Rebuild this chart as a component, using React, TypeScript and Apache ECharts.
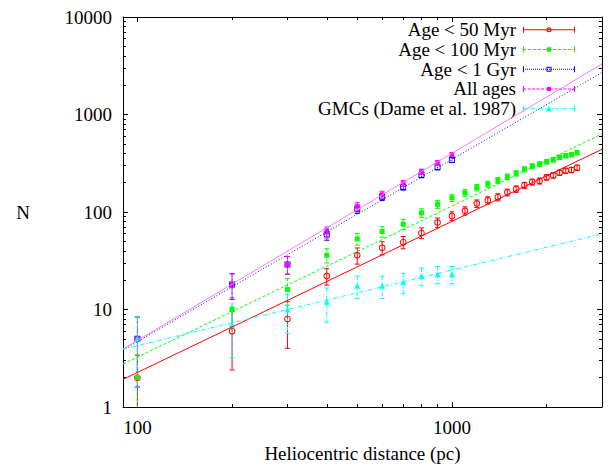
import React, { useEffect, useRef } from "react";
import * as echarts from "echarts";

// ---------- data ----------
const distShort = [100, 200, 300, 400, 500, 600, 700, 800, 900, 1000];
const distLong = [100, 200, 300, 400, 500, 600, 700, 800, 900, 1000, 1100, 1200, 1300, 1400, 1500, 1600, 1700, 1800, 1900, 2000, 2100, 2200, 2300, 2400, 2500];

const age50 = [2, 6, 8, 22, 36, 43, 49, 61, 78, 91, 103, 122, 132, 142, 159, 172, 188, 203, 208, 227, 238, 253, 265, 270, 285];
const age50Err = [1.4, 3.6, 4, 4.2, 6.8, 6.6, 7, 7.7, 8.8, 9.5, 10, 11, 11.4, 12, 12.6, 13, 13.6, 14.2, 14.4, 15, 15.4, 15.9, 16.1, 16.4, 16.9];

const age100 = [2, 10, 16, 36, 53, 63, 75, 98, 120, 140, 157, 178, 193, 211, 230, 249, 274, 295, 309, 328, 344, 364, 378, 387, 406];
const age100Err = [1.4, 3.2, 4.9, 6, 7.3, 7.9, 8.7, 9.9, 11, 11.9, 12.5, 13.3, 13.9, 14.5, 15.2, 15.8, 16.6, 17.2, 17.6, 18.1, 18.5, 19.1, 19.4, 19.7, 20.1];

const age1G = [5, 18, 29, 59, 107, 143, 181, 240, 288, 341];
const age1GErr = [3.4, 5.3, 6, 7.7, 10.3, 12, 13.4, 15.5, 17, 18.5];

const allAges = [5, 18, 29, 62, 114, 151, 197, 259, 320, 387];
const allAgesErr = [3.4, 5.3, 6, 8, 10.7, 12.3, 14, 16.1, 17.9, 19.7];

const gmc = [5, 7, 10, 12, 17.5, 17.5, 19, 22, 23, 23];
const gmcErr = [3.4, 3.8, 4.3, 4.6, 4.5, 4.5, 4.5, 4.5, 4.6, 4.6];

// fitted power laws: value at the two ends of the x range
const fitX = [90, 3000];
const fit50 = [1.92, 440];
const fit100 = [2.76, 631];
const fit1G = [3.84, 2700];
const fitAll = [3.93, 3296];
const fitGmc = [3.93, 59.5];

const xMajor = [100, 1000];
const xMinor = [200, 300, 400, 500, 600, 700, 800, 900, 2000, 3000];
const yMajor = [1, 10, 100, 1000, 10000];
const yMinor = [2, 3, 4, 5, 6, 7, 8, 9, 20, 30, 40, 50, 60, 70, 80, 90, 200, 300, 400, 500, 600, 700, 800, 900, 2000, 3000, 4000, 5000, 6000, 7000, 8000, 9000];

const names = ["Age < 50 Myr", "Age < 100 Myr", "Age < 1 Gyr", "All ages", "GMCs (Dame et al. 1987)"];

// ---------- styling ----------
const SERIF = '"Liberation Serif", "DejaVu Serif", serif';
const RED = "#ff0000";
const GREEN = "#00ff00";
const BLUE = "#0000ff";
const MAG = "#ff00ff";
const CYAN = "#00ffff";

const RING = "path://M0 -5A5 5 0 1 1 0 5A5 5 0 1 1 0 -5Z M0 -3.6A3.6 3.6 0 1 0 0 3.6A3.6 3.6 0 1 0 0 -3.6Z";
const OPENSQ = "path://M-5 -5H5V5H-5Z M-3.5 -3.5V3.5H3.5V-3.5Z";

function iconPath(dash: number[] | null, marker: string): string {
  const W = 52;
  let d = "M0 0H1V6H0Z M51 0H52V6H51Z ";
  if (!dash) {
    d += "M0 2.5H52V3.5H0Z ";
  } else {
    let x = 0;
    let k = 0;
    while (x < W) {
      const len = dash[k % dash.length];
      if (k % 2 === 0) {
        const x2 = Math.min(W, x + len);
        d += `M${x.toFixed(2)} 2.5H${x2.toFixed(2)}V3.5H${x.toFixed(2)}Z `;
      }
      x += len;
      k++;
    }
  }
  if (marker === "ring") {
    d += "M23.5 3A2.5 2.5 0 1 1 28.5 3A2.5 2.5 0 1 1 23.5 3Z M24.6 3A1.4 1.4 0 1 0 27.4 3A1.4 1.4 0 1 0 24.6 3Z";
  } else if (marker === "square") {
    d += "M23.7 0.7H28.3V5.3H23.7Z";
  } else if (marker === "open") {
    d += "M23.5 0.5H28.5V5.5H23.5Z M24.5 1.5V4.5H27.5V1.5Z";
  } else if (marker === "small") {
    d += "M24 1H28V5H24Z";
  } else {
    d += "M26 0.3L28.8 5.5H23.2Z";
  }
  return "path://" + d;
}

function errorSeries(xs: number[], ys: number[], errs: number[], color: string, dash: number[] | null) {
  return {
    type: "custom",
    clip: true,
    silent: true,
    z: 2,
    data: xs.map((x, i) => [x, ys[i], ys[i] - errs[i], ys[i] + errs[i]]),
    encode: { x: 0, y: [1, 2, 3] },
    renderItem: (_p: any, api: any) => {
      const x = api.value(0);
      const top = api.coord([x, api.value(3)]);
      const bot = api.coord([x, api.value(2)]);
      const cap = 2.5;
      const s: any = { stroke: color, lineWidth: 1, fill: null };
      if (dash) s.lineDash = dash;
      const c: any = { stroke: color, lineWidth: 1, fill: null };
      return {
        type: "group",
        children: [
          { type: "line", shape: { x1: top[0], y1: top[1], x2: bot[0], y2: bot[1] }, style: s },
          { type: "line", shape: { x1: top[0] - cap, y1: top[1], x2: top[0] + cap, y2: top[1] }, style: c },
          { type: "line", shape: { x1: bot[0] - cap, y1: bot[1], x2: bot[0] + cap, y2: bot[1] }, style: c },
        ],
      };
    },
  };
}

function pointSeries(name: string, xs: number[], ys: number[], color: string, symbol: string, size: number) {
  return {
    type: "scatter",
    name,
    z: 3,
    symbol,
    symbolSize: size,
    itemStyle: { color, opacity: 1 },
    data: xs.map((x, i) => [x, ys[i]]),
  };
}

function fitSeries(fit: number[], color: string, type: any, width = 1) {
  return {
    type: "line",
    silent: true,
    z: 4,
    symbol: "none",
    showSymbol: false,
    lineStyle: { color, width, type },
    data: [
      [fitX[0], fit[0]],
      [fitX[1], fit[1]],
    ],
  };
}

const labelStyle = { fontFamily: SERIF, fontSize: 19, color: "#000" };
const plainFormat = (v: number) => String(Math.round(v));

function xAxisDef(position: string, major: boolean, labels: boolean, extra: any = {}) {
  return {
    type: "log",
    logBase: 10,
    min: 90,
    max: 3000,
    position,
    axisLine: { show: major, onZero: false, lineStyle: { color: "#000", width: 1 } },
    axisTick: { show: true, inside: true, length: major ? 5 : 3, customValues: major ? xMajor : xMinor, lineStyle: { color: "#000", width: 1 } },
    axisLabel: labels
      ? { show: true, customValues: xMajor, margin: 11, formatter: plainFormat, ...labelStyle }
      : { show: false },
    splitLine: { show: false },
    minorTick: { show: false },
    ...extra,
  };
}

function yAxisDef(position: string, major: boolean, labels: boolean, extra: any = {}) {
  return {
    type: "log",
    logBase: 10,
    min: 1,
    max: 10000,
    position,
    axisLine: { show: major, onZero: false, lineStyle: { color: "#000", width: 1 } },
    axisTick: { show: true, inside: true, length: major ? 5 : 3, customValues: major ? yMajor : yMinor, lineStyle: { color: "#000", width: 1 } },
    axisLabel: labels
      ? { show: true, customValues: yMajor, margin: 11, formatter: plainFormat, ...labelStyle }
      : { show: false },
    splitLine: { show: false },
    minorTick: { show: false },
    ...extra,
  };
}

export default function App() {
  const ref = useRef<HTMLDivElement>(null);
  useEffect(() => {
    if (!ref.current) return;
    const chart = echarts.init(ref.current, undefined, { renderer: "svg" });
    const option: any = {
      animation: false,
      backgroundColor: "#fff",
      textStyle: { fontFamily: SERIF },
      grid: { left: 123, top: 17, right: 6, bottom: 59, containLabel: false, outerBoundsMode: "none" },
      xAxis: [
        xAxisDef("bottom", true, true, {
          name: "Heliocentric distance (pc)",
          nameLocation: "middle",
          nameGap: 37,
          nameTextStyle: { ...labelStyle, lineHeight: 19 },
        }),
        xAxisDef("bottom", false, false),
        xAxisDef("top", true, false),
        xAxisDef("top", false, false),
      ],
      yAxis: [
        yAxisDef("left", true, true, {
          name: "N",
          nameLocation: "middle",
          nameRotate: 0,
          nameGap: 93,
          nameTextStyle: labelStyle,
        }),
        yAxisDef("left", false, false),
        yAxisDef("right", true, false),
        yAxisDef("right", false, false),
      ],
      legend: {
        orient: "vertical",
        right: 28,
        top: 15,
        align: "right",
        itemWidth: 52,
        itemHeight: 6,
        itemGap: 0,
        selectedMode: false,
        itemStyle: { borderWidth: 0 },
        textStyle: { ...labelStyle, lineHeight: 19.7, padding: [0, 2, 0, 0] },
        data: [
          { name: names[0], icon: iconPath(null, "ring"), itemStyle: { color: RED, borderWidth: 0 } },
          { name: names[1], icon: iconPath([3, 2], "square"), itemStyle: { color: GREEN, borderWidth: 0 } },
          { name: names[2], icon: iconPath([1, 1], "open"), itemStyle: { color: BLUE, borderWidth: 0 } },
          { name: names[3], icon: iconPath([3, 1.5], "small"), itemStyle: { color: MAG, borderWidth: 0 } },
          { name: names[4], icon: iconPath([4, 1.5, 1, 1.5], "tri"), itemStyle: { color: CYAN, borderWidth: 0 } },
        ],
      },
      series: [
        errorSeries(distLong, age50, age50Err, RED, null),
        pointSeries(names[0], distLong, age50, RED, RING, 6.5),
        errorSeries(distLong, age100, age100Err, GREEN, [3, 2]),
        pointSeries(names[1], distLong, age100, GREEN, "rect", 5),
        errorSeries(distShort, age1G, age1GErr, BLUE, [1, 1]),
        pointSeries(names[2], distShort, age1G, BLUE, OPENSQ, 6),
        errorSeries(distShort, allAges, allAgesErr, MAG, [3, 1.5]),
        pointSeries(names[3], distShort, allAges, MAG, "rect", 4.5),
        errorSeries(distShort, gmc, gmcErr, CYAN, [4, 1.5, 1, 1.5]),
        pointSeries(names[4], distShort, gmc, CYAN, "triangle", 6),
        fitSeries(fit50, RED, "solid"),
        fitSeries(fit100, GREEN, [3, 2]),
        fitSeries(fit1G, BLUE, [1, 2]),
        fitSeries(fitAll, "#ff77ff", "solid"),
        fitSeries(fitGmc, CYAN, [4, 2, 1, 2]),
      ],
    };
    chart.setOption(option);
    return () => chart.dispose();
  }, []);
  return (
    <div
      ref={ref}
      style={{ position: "absolute", left: 0, top: 0, width: 608, height: 466, background: "#fff" }}
    />
  );
}
